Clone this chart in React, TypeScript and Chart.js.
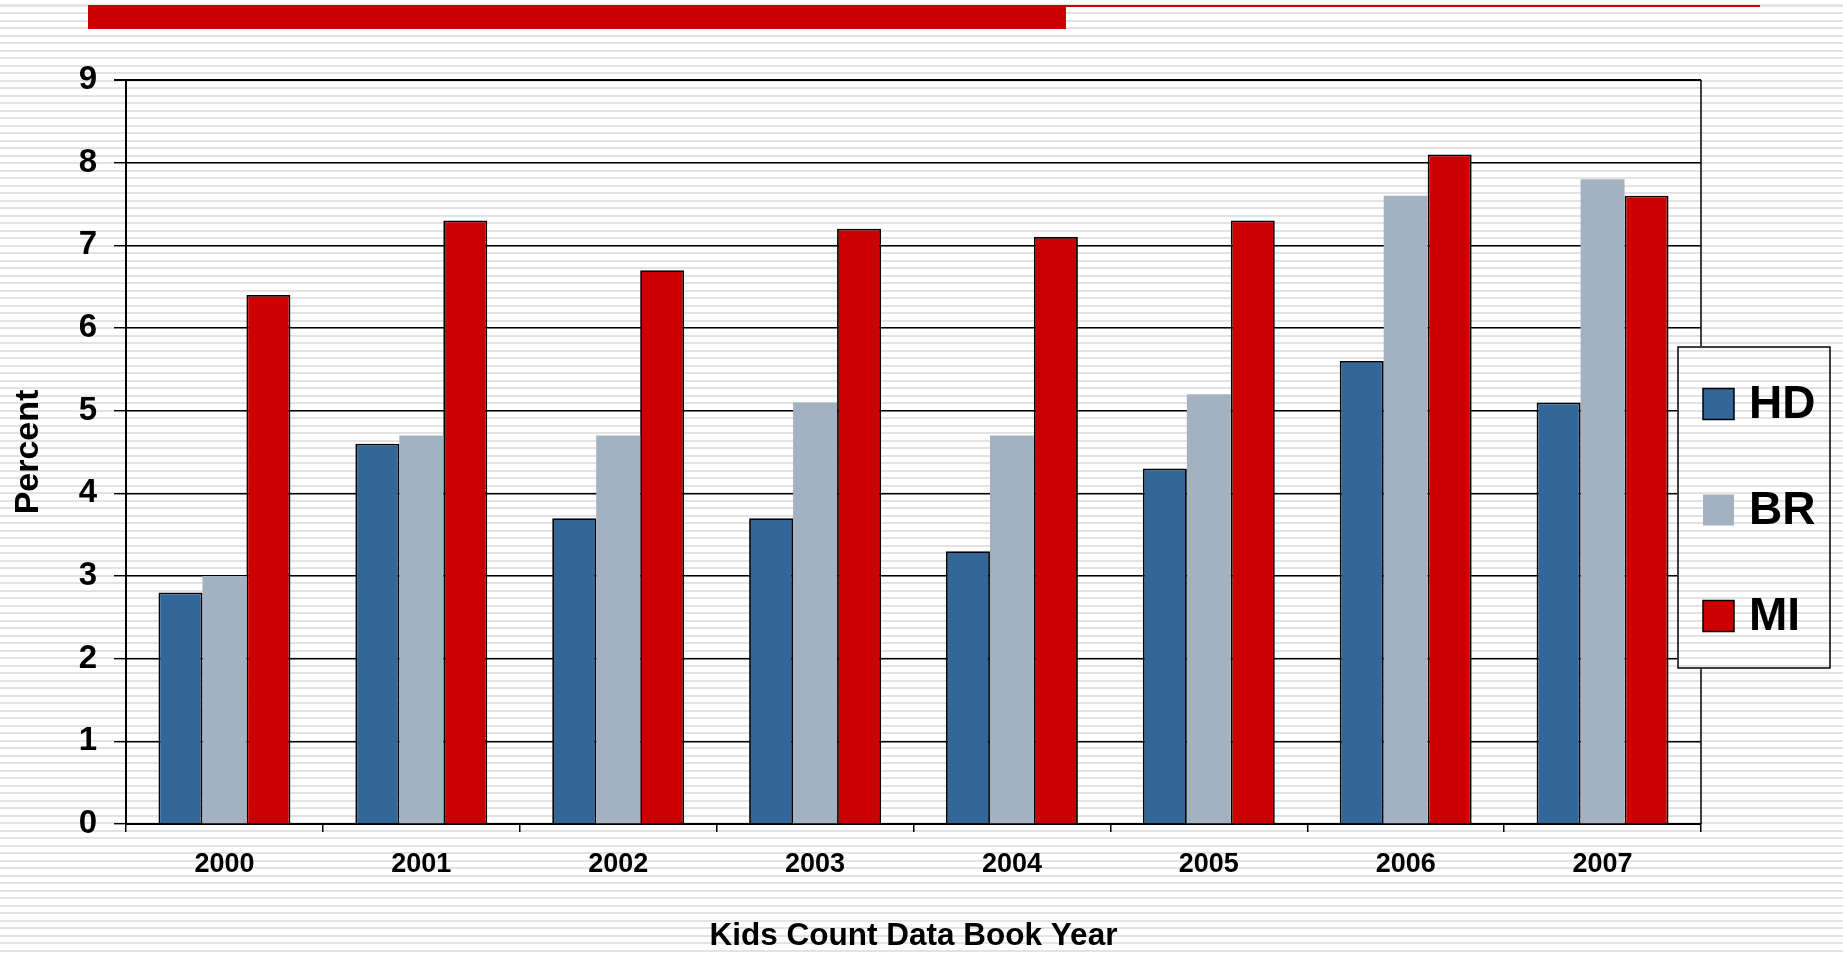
import React, { useEffect, useRef } from "react";
import { Chart, registerables } from "chart.js";

Chart.register(...registerables);

const categories = ["2000", "2001", "2002", "2003", "2004", "2005", "2006", "2007"];
const seriesLabels = ["HD", "BR", "MI"];
const hdValues = [2.8, 4.6, 3.7, 3.7, 3.3, 4.3, 5.6, 5.1];
const brValues = [3.0, 4.7, 4.7, 5.1, 4.7, 5.2, 7.6, 7.8];
const miValues = [6.4, 7.3, 6.7, 7.2, 7.1, 7.3, 8.1, 7.6];
const yTickLabels = ["0", "1", "2", "3", "4", "5", "6", "7", "8", "9"];
const xTitle = "Kids Count Data Book Year";
const yTitle = "Percent";

const FONT = "'Liberation Sans', Arial, Helvetica, sans-serif";
const COLORS = ["#336699", "#A3B1C1", "#CC0000"];
const BORDERS = [1.8, 0, 1.8];

const decorPlugin = {
  id: "decor",
  afterDraw(chart: any) {
    const ctx = chart.ctx as CanvasRenderingContext2D;
    const a = chart.chartArea;
    ctx.save();
    // right frame line of plot
    ctx.strokeStyle = "#000";
    ctx.lineWidth = 1.5;
    ctx.beginPath();
    ctx.moveTo(a.right, a.top);
    ctx.lineTo(a.right, a.bottom);
    ctx.stroke();

    // top decorative red bars
    ctx.fillStyle = "#CC0000";
    ctx.fillRect(88, 5, 978, 24);
    ctx.fillRect(1066, 5, 694, 2);

    // legend
    const lx = 1678, ly = 347, lw = 152, lh = 321;
    ctx.clearRect(lx - 1, ly - 1, lw + 2, lh + 2);
    ctx.strokeStyle = "#000";
    ctx.lineWidth = 1.5;
    ctx.strokeRect(lx, ly, lw, lh);
    const ys = [404, 510, 616];
    ctx.font = `bold 46px ${FONT}`;
    ctx.textBaseline = "middle";
    ctx.textAlign = "left";
    chart.data.datasets.forEach((ds: any, i: number) => {
      const cy = ys[i];
      ctx.fillStyle = ds.backgroundColor;
      ctx.fillRect(1703, cy - 15.5, 31, 31);
      if (ds.borderWidth > 0) {
        ctx.strokeStyle = "#000";
        ctx.lineWidth = 1.5;
        ctx.strokeRect(1703, cy - 15.5, 31, 31);
      }
      ctx.fillStyle = "#000";
      ctx.fillText(ds.label, 1749, cy + 1);
    });
    ctx.restore();
  },
};

export default function App() {
  const canvasRef = useRef<HTMLCanvasElement | null>(null);

  useEffect(() => {
    if (!canvasRef.current) return;
    const series = [hdValues, brValues, miValues];
    const chart = new Chart(canvasRef.current, {
      type: "bar",
      data: {
        labels: categories,
        datasets: series.map((vals, i) => ({
          label: seriesLabels[i],
          data: vals,
          backgroundColor: COLORS[i],
          borderColor: "#000",
          borderWidth: BORDERS[i],
          categoryPercentage: 0.67,
          barPercentage: 1.0,
        })),
      },
      options: {
        animation: false,
        responsive: true,
        maintainAspectRatio: false,
        layout: { padding: { top: 80, right: 142, left: 0, bottom: 0 } },
        plugins: {
          legend: { display: false },
          tooltip: { enabled: false },
          title: { display: false },
        },
        scales: {
          x: {
            type: "category",
            offset: true,
            grid: {
              display: true,
              drawOnChartArea: false,
              drawTicks: true,
              tickLength: 8,
              offset: true,
              color: "#000",
              lineWidth: 1.5,
            },
            border: { display: true, color: "#000", width: 2 },
            ticks: {
              color: "#000",
              padding: 16,
              font: { family: FONT, size: 27, weight: "bold" },
              maxRotation: 0,
            },
            title: {
              display: true,
              text: xTitle,
              color: "#000",
              font: { family: FONT, size: 31.5, weight: "bold" },
              padding: { top: 0, bottom: 2 },
            },
            afterFit: (scale: any) => {
              scale.height = 133;
            },
          },
          y: {
            min: 0,
            max: 9,
            ticks: {
              stepSize: 1,
              color: "#000",
              padding: 17,
              font: { family: FONT, size: 33, weight: "bold" },
              callback: (v: any) => yTickLabels[Number(v)] ?? String(v),
            },
            grid: {
              color: "#000",
              lineWidth: (c: any) => (c.tick && c.tick.value === 9 ? 2 : 1.4),
              tickLength: 12,
              drawTicks: true,
            },
            border: { display: true, color: "#000", width: 2 },
            title: {
              display: true,
              text: yTitle,
              color: "#000",
              font: { family: FONT, size: 34, weight: "bold" },
              padding: { top: 8, bottom: 0 },
            },
            afterFit: (scale: any) => {
              scale.width = 126;
            },
          },
        },
      },
      plugins: [decorPlugin],
    } as any);
    return () => chart.destroy();
  }, []);

  return (
    <div
      style={{
        position: "absolute",
        left: 0,
        top: 0,
        width: 1843,
        height: 957,
        background:
          "repeating-linear-gradient(to bottom, #ffffff 0px, #ffffff 4.5px, #e3e3e3 4.5px, #e3e3e3 6.5px, #ffffff 6.5px, #ffffff 7.5px)",
      }}
    >
      <canvas ref={canvasRef} style={{ width: "100%", height: "100%" }} />
    </div>
  );
}
